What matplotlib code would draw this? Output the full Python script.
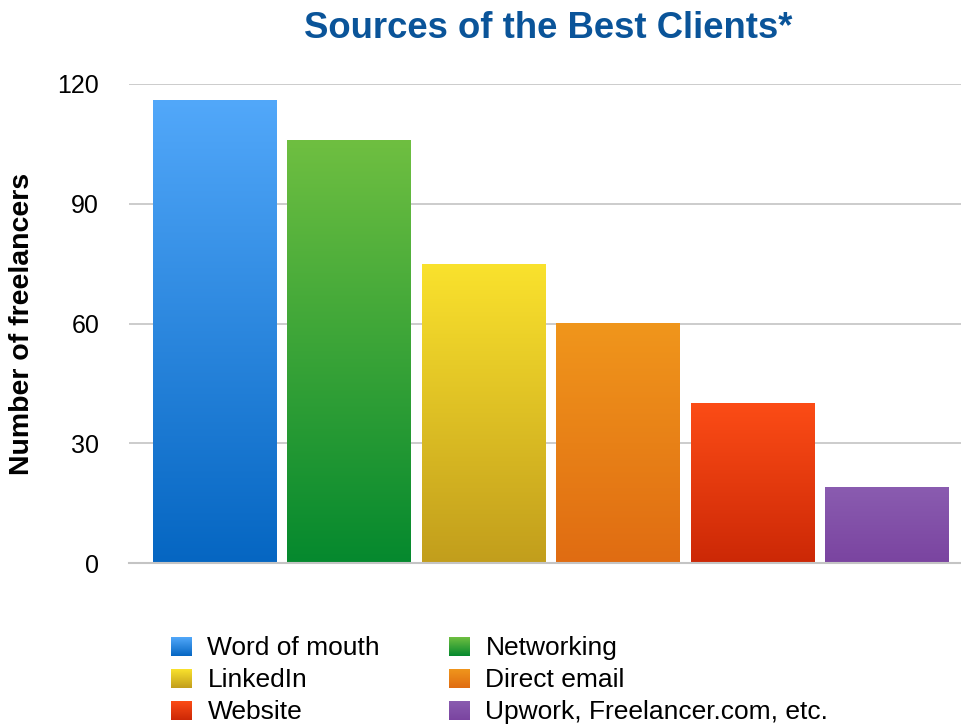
import numpy as np
import matplotlib
matplotlib.use('Agg')
import matplotlib.pyplot as plt
from matplotlib.colors import LinearSegmentedColormap

plt.rcParams['font.family'] = ['Liberation Sans', 'DejaVu Sans']

sources = ["Word of mouth", "Networking", "LinkedIn", "Direct email",
           "Website", "Upwork, Freelancer.com, etc."]
freelancers = [116, 106, 75, 60, 40, 19]
# (top, bottom) colours of each bar's vertical gradient
top_colors = ["#52a8fa", "#6fbf41", "#fae22d", "#f0961c", "#fc4c16", "#8a5cb0"]
bottom_colors = ["#0566c2", "#05892e", "#c29e1c", "#e06c12", "#cc2806", "#7a44a0"]
yticks = [0, 30, 60, 90, 120]

W, H = 962, 728
fig = plt.figure(figsize=(W / 100, H / 100), dpi=100)
ax = fig.add_axes([129 / W, 1 - 563.3 / H, (W - 129) / W, (563.3 - 83.7) / H])

x = np.arange(len(sources))
width = 0.915
grad = np.linspace(1, 0, 256).reshape(-1, 1)
bars = ax.bar(x, freelancers, width=width, facecolor='none', edgecolor='none',
              zorder=2)
for b, c0, c1 in zip(bars, top_colors, bottom_colors):
    cmap = LinearSegmentedColormap.from_list("g", [c1, c0])
    x0, y0 = b.get_x(), b.get_y()
    im = ax.imshow(grad, cmap=cmap, aspect='auto', vmin=0, vmax=1,
                   extent=[x0, x0 + b.get_width(), y0, y0 + b.get_height()],
                   zorder=2, interpolation='bilinear')
    im.set_clip_path(b)

ax.set_xlim(-0.636, 5.558)
ax.set_ylim(0, 120)
ax.set_yticks(yticks)
ax.set_xticks([])
ax.tick_params(axis='y', length=0, pad=21.5, labelsize=18)
ax.yaxis.grid(True, color='#c4c4c4', linewidth=1.2, zorder=0)
ax.set_axisbelow(True)
for s in ['top', 'right', 'left']:
    ax.spines[s].set_visible(False)
ax.spines['bottom'].set_color('#c4c4c4')
ax.spines['bottom'].set_linewidth(1.5)
ax.spines['bottom'].set_zorder(3)

fig.text(548 / W, 1 - 29 / H, "Sources of the Best Clients*", ha='center',
         va='center', fontsize=26.3, fontweight='bold', color='#0a5499')
fig.text(22 / W, 1 - 324 / H, "Number of freelancers", ha='center',
         va='center', rotation=90, fontsize=20.5, fontweight='bold')

# legend: two columns of gradient squares drawn in pixel space
lax = fig.add_axes([0, 0, 1, 1])
lax.axis('off')
lax.patch.set_visible(False)
col_x = [171, 449]
row_y = [646.7, 678.6, 710.8]
for i, (name, c0, c1) in enumerate(zip(sources, top_colors, bottom_colors)):
    cx = col_x[i % 2]
    cy = row_y[i // 2]
    cmap = LinearSegmentedColormap.from_list("g", [c1, c0])
    lax.imshow(grad, cmap=cmap, aspect='auto', vmin=0, vmax=1,
               extent=[cx, cx + 20.5, cy + 9.3, cy - 9.3],
               interpolation='bilinear')
    lax.text(cx + 36.5, cy + 1, name, ha='left', va='center', fontsize=19)
lax.set_xlim(0, W)
lax.set_ylim(H, 0)

fig.savefig("out.png", dpi=100)
